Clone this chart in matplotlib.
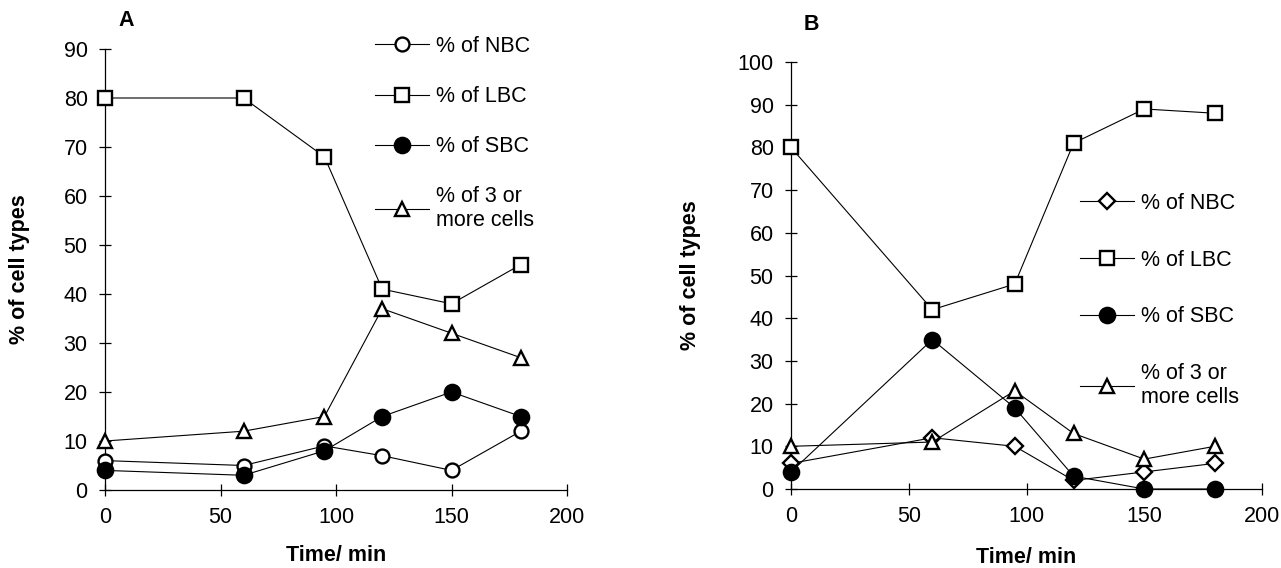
import matplotlib
matplotlib.use("Agg")
import matplotlib.pyplot as plt

plt.rcParams['font.family'] = ['Liberation Sans', 'DejaVu Sans']

time = [0, 60, 95, 120, 150, 180]

a_nbc = [6, 5, 9, 7, 4, 12]
a_lbc = [80, 80, 68, 41, 38, 46]
a_sbc = [4, 3, 8, 15, 20, 15]
a_three = [10, 12, 15, 37, 32, 27]

b_nbc = [6, 12, 10, 2, 4, 6]
b_lbc = [80, 42, 48, 81, 89, 88]
b_sbc = [4, 35, 19, 3, 0, 0]
b_three = [10, 11, 23, 13, 7, 10]

labels = ['% of NBC', '% of LBC', '% of SBC', '% of 3 or\nmore cells']
xticks = [0, 50, 100, 150, 200]

W, H = 1281, 568
fig = plt.figure(figsize=(W / 100, H / 100), dpi=100)

FS = 15.5
ms = 10
mew = 1.7
lw = 0.8


def style_axes(ax, ymax, ylabelpad, xlabelpad):
    ax.set_xlim(0, 200)
    ax.set_ylim(0, ymax)
    ax.set_xticks(xticks)
    ax.set_yticks(range(0, ymax + 1, 10))
    for s in ['top', 'right']:
        ax.spines[s].set_visible(False)
    for s in ['left', 'bottom']:
        ax.spines[s].set_linewidth(0.9)
    ax.tick_params(direction='inout', length=9, width=0.9, labelsize=FS, pad=8)
    ax.set_xlabel('Time/ min', fontsize=FS, fontweight='bold', labelpad=xlabelpad)
    ax.set_ylabel('% of cell types', fontsize=FS, fontweight='bold', labelpad=ylabelpad)
    for sp in ax.spines.values():
        sp.set_clip_on(False)


def plot_series(ax, nbc, lbc, sbc, three, nbc_marker, nbc_ms):
    kw = dict(color='black', lw=lw, mew=mew, clip_on=False, zorder=3)
    h1, = ax.plot(time, nbc, marker=nbc_marker, ms=nbc_ms, mfc='white', mec='black', **kw)
    h2, = ax.plot(time, lbc, marker='s', ms=ms, mfc='white', mec='black', **kw)
    h3, = ax.plot(time, sbc, marker='o', ms=ms + 1, mfc='black', mec='black', **kw)
    h4, = ax.plot(time, three, marker='^', ms=ms, mfc='white', mec='black', **kw)
    return [h1, h2, h3, h4]


legend_kw = dict(loc='upper left', frameon=False, fontsize=FS, handlelength=2.5,
                 handletextpad=0.35, borderpad=0, borderaxespad=0)

# Panel A
axA = fig.add_axes([105 / W, 1 - 490 / H, (567 - 105) / W, (490 - 49) / H])
hA = plot_series(axA, a_nbc, a_lbc, a_sbc, a_three, 'o', ms)
style_axes(axA, 90, 24, 12)
fig.text(118 / W, 1 - 21 / H, 'A', fontsize=FS, fontweight='bold', va='center')
fig.legend(hA, labels, bbox_to_anchor=(375 / W, 1 - 36 / H), labelspacing=1.35, **legend_kw)

# Panel B
axB = fig.add_axes([791 / W, 1 - 489 / H, (1262 - 791) / W, (489 - 62) / H])
hB = plot_series(axB, b_nbc, b_lbc, b_sbc, b_three, 'D', 8.5)
style_axes(axB, 100, 26, 14)
fig.text(804 / W, 1 - 25 / H, 'B', fontsize=FS, fontweight='bold', va='center')
fig.legend(hB, labels, bbox_to_anchor=(1080 / W, 1 - 193 / H), labelspacing=1.65, **legend_kw)

fig.savefig('out.png', dpi=100)
